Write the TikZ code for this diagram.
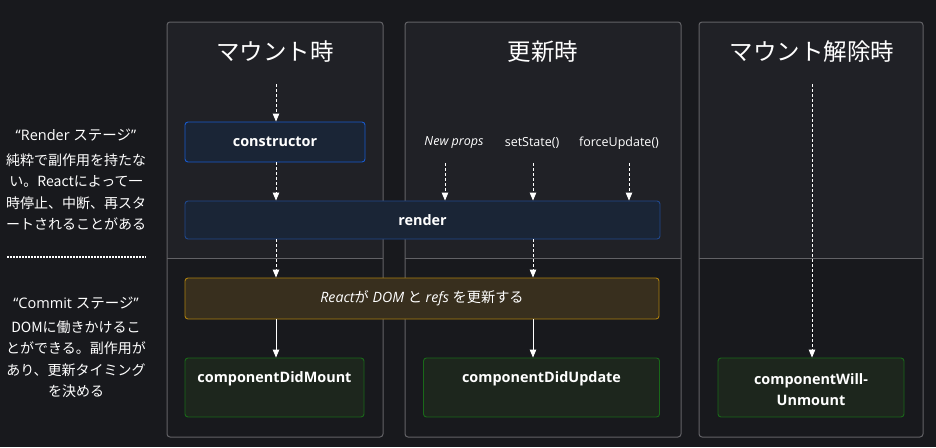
\documentclass[tikz,border=0pt]{standalone}
\usepackage{fontspec}
\setmainfont{Open Sans}
\newfontfamily\jp{Noto Sans CJK JP}
\usetikzlibrary{arrows.meta}
\definecolor{pagebg}{RGB}{24,25,29}
\definecolor{colbg}{RGB}{32,33,38}
\definecolor{colline}{RGB}{98,98,102}
\definecolor{blufill}{RGB}{26,37,54}
\definecolor{bluline}{RGB}{25,90,205}
\definecolor{renline}{RGB}{32,72,140}
\definecolor{ylwfill}{RGB}{56,47,30}
\definecolor{ylwline}{RGB}{172,128,15}
\definecolor{grnfill}{RGB}{29,38,29}
\definecolor{grnline}{RGB}{25,105,25}
\begin{document}
\begin{tikzpicture}[x=1pt,y=-1pt,
  colframe/.style={draw=colline, line width=1pt, rounded corners=3pt},
  coltitle/.style={text=white, font=\jp\fontsize{23.5}{26}\selectfont, inner sep=0pt},
  stagebox/.style={rounded corners=3pt, line width=0.9pt, inner sep=0pt, text=white},
  lbl/.style={text=white, font=\fontsize{14.4}{21}\selectfont\bfseries, inner sep=0pt, align=center},
  small/.style={text=white, font=\fontsize{12.5}{14}\selectfont, inner sep=0pt},
  side/.style={text=white, font=\jp\fontsize{14}{21.5}\selectfont, inner sep=0pt, align=center},
  flow/.style={draw=white, line width=0.9pt, -{Triangle[width=6.5pt,length=8pt]}},
  dflow/.style={flow, dash pattern=on 3pt off 2pt}]
\useasboundingbox (0,0) rectangle (936,447);
\fill[pagebg] (0,0) rectangle (936,447);

% columns
\foreach \xa/\xb in {167/383, 405/681, 699/923}{
  \fill[colbg] (\xa,258) [rounded corners=3pt] -- (\xa,22) -- (\xb,22) [sharp corners] -- (\xb,258) -- cycle;
  \draw[colline, line width=1pt] (\xa,258) -- (\xb,258);
  \draw[colframe] (\xa,22) rectangle (\xb,437);
}

% titles
\node[coltitle] (t1) at (275,52) {マウント時};
\node[coltitle] (t2) at (543,52) {更新時};
\node[coltitle] (t3) at (812,52) {マウント解除時};

% left side
\node[text=white, inner sep=0pt, font=\fontsize{14.5}{16}\selectfont] (rs) at (76,135) {“Render {\jp ステージ}”};
\node[side, anchor=north] (rsd) at (76,153.5) {純粋で副作用を持たな\\い。Reactによって一\\時停止、中断、再スタ\\ートされることがある};
\draw[white, line width=2pt, dash pattern=on 2pt off 1pt] (7,257) -- (146,257);
\node[text=white, inner sep=0pt, font=\fontsize{14.5}{16}\selectfont] (cs) at (76,303) {“Commit {\jp ステージ}”};
\node[side, anchor=north] (csd) at (76,320.5) {DOMに働きかけるこ\\とができる。副作用が\\あり、更新タイミング\\を決める};

% stage boxes
\node[stagebox, draw=bluline, fill=blufill, minimum width=180pt, minimum height=40pt, font=\fontsize{14.4}{16}\selectfont\bfseries] (ctor) at (275,142) {constructor};
\node[stagebox, draw=renline, fill=blufill, minimum width=475pt, minimum height=38pt, font=\fontsize{14.4}{16}\selectfont\bfseries] (render) at (422.5,220) {render};
\node[stagebox, draw=ylwline, fill=ylwfill, minimum width=474pt, minimum height=41pt, font=\fontsize{14.2}{16}\selectfont] (dom) at (422,298.5) {\itshape React{\upshape\jp が} DOM {\upshape\jp と} refs {\upshape\jp を更新する}};
\node[stagebox, draw=grnline, fill=grnfill, minimum width=179pt, minimum height=59pt] (cdm) at (274.5,387.5) {};
\node[stagebox, draw=grnline, fill=grnfill, minimum width=236pt, minimum height=59pt] (cdu) at (541.5,387.5) {};
\node[stagebox, draw=grnline, fill=grnfill, minimum width=186pt, minimum height=59pt] (cwu) at (811,387.5) {};
\node[lbl] (cdml) at (274.5,379) {componentDidMount};
\node[lbl] (cdul) at (541.5,379) {componentDidUpdate};
\node[lbl] (cwul) at (811,389.5) {componentWill-\\Unmount};

% update triggers
\node[small, font=\fontsize{12.5}{14}\selectfont\itshape] (np) at (454,143) {New props};
\node[small] (ss) at (532,143) {setState()};
\node[small] (fu) at (619,143) {forceUpdate()};

% connectors
\coordinate (m0) at (276,84);
\coordinate (u1) at (445,163);
\coordinate (u2) at (533,163);
\coordinate (u3) at (629,163);
\coordinate (d0) at (812,84);

\draw[dflow] (m0) -- (m0 |- ctor.north);
\draw[dflow] (m0 |- ctor.south) -- (m0 |- render.north);
\draw[dflow] (m0 |- render.south) -- (m0 |- dom.north);
\draw[flow] (m0 |- dom.south) -- (m0 |- cdm.north);

\draw[dflow] (u1) -- (u1 |- render.north);
\draw[dflow] (u2) -- (u2 |- render.north);
\draw[dflow] (u3) -- (u3 |- render.north);
\draw[dflow] (u2 |- render.south) -- (u2 |- dom.north);
\draw[flow] (u2 |- dom.south) -- (u2 |- cdu.north);

\draw[dflow] (d0) -- (d0 |- cwu.north);
\end{tikzpicture}
\end{document}
